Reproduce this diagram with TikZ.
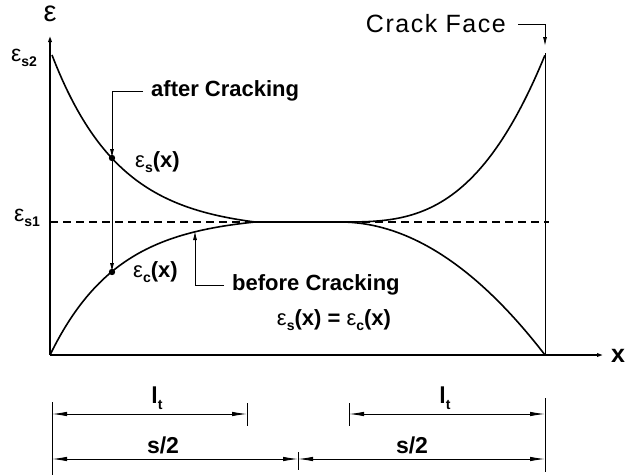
\documentclass[tikz,border=0pt]{standalone}
\usepackage{fontspec}
\setmainfont{Liberation Sans}
\usetikzlibrary{arrows.meta,positioning}

\newcommand{\epsx}[1]{\textmd{ε}\raisebox{-0.45ex}{\fontsize{14}{15}\selectfont\bfseries #1}}
\newcommand{\ltx}{l\raisebox{-0.45ex}{\fontsize{14}{15}\selectfont\bfseries t}}

\begin{document}
\begin{tikzpicture}[x=1pt, y=-1pt, >={Latex[length=9pt,width=4pt]},
  axis/.style={line width=2pt},
  curve/.style={line width=1.6pt},
  lead/.style={line width=0.9pt},
  dim/.style={line width=0.9pt, {Latex[length=15pt,width=4.5pt]}-{Latex[length=15pt,width=4.5pt]}},
  lab/.style={font=\fontsize{22}{25}\selectfont\bfseries, inner xsep=8pt, inner ysep=2pt},
  dimlab/.style={font=\fontsize{23}{26}\selectfont\bfseries, inner sep=0pt}]
\useasboundingbox (0,0) rectangle (633,475);
% axes
\coordinate (o) at (50,355);
\coordinate (ytop) at (50,33);
\coordinate (xend) at (606,355);
\draw[axis,->] (o) -- (ytop);
\draw[axis,->] (o) -- (xend);
\node[font=\fontsize{29}{31}\selectfont, inner sep=0pt] (epsax) at (50,14) {ε};
\node[dimlab, anchor=west, font=\fontsize{25}{27}\selectfont\bfseries] (xax) at (611,356) {x};
\node[font=\fontsize{23}{25}\selectfont, inner sep=0pt] (es2) at (24,58) {\epsx{s2}};
\node[font=\fontsize{23}{25}\selectfont, inner sep=0pt] (es1) at (27,218) {\epsx{s1}};
% crack face and level es1
\coordinate (cftop) at (545,53);
\coordinate (cfbot) at (545,355);
\draw[lead] (cftop) -- (cfbot);
\coordinate (d1a) at (50,222);
\coordinate (d1b) at (549,222);
\draw[line width=1.3pt, dash pattern=on 8pt off 5pt] (d1a) -- (d1b);
% strain curves
\draw[curve] plot[domain=0:1, samples=80] ({52+203*\x}, {222-167*(exp(-3*\x)-exp(-3))/(1-exp(-3))});
\draw[curve] plot[domain=0:1, samples=80] ({50+205*\x}, {222+133*(exp(-3*\x)-exp(-3))/(1-exp(-3))});
\draw[curve] (255,222) -- (340,222);
\draw[curve] plot[domain=0:1, samples=80] ({340+205*\x}, {222-167*\x^3});
\draw[curve] plot[domain=0:1, samples=80] ({340+205*\x}, {222+133*\x^2});
% after / before cracking
\coordinate (pu) at (112,158);
\coordinate (pl) at (112,272);
\coordinate (pb) at (195,231);
\fill (pu) circle (3.2pt);
\fill (pl) circle (3.2pt);
\node[lab, anchor=west] (after) at (143,91) {after Cracking};
\draw[lead,->] (after.west) -| (pu);
\draw[lead,->] (pu) -- (pl);
\node[lab, anchor=west] (esx) at (127,162) {\epsx{s}(x)};
\node[lab, anchor=west] (ecx) at (125,272) {\epsx{c}(x)};
\node[lab, anchor=west] (before) at (224,285) {before Cracking};
\draw[lead,->] (before.west) -| (pb);
\node[lab] (eqn) at (334,320) {\epsx{s}(x) = \epsx{c}(x)};
\node[font=\fontsize{25}{28}\selectfont\addfontfeature{LetterSpace=6}, anchor=east, inner xsep=12pt] (crack) at (518,24) {Crack Face};
\coordinate (cfarr) at (545,46);
\draw[lead,->] (crack.east) -| (cfarr);
% dimensions
\coordinate (t0a) at (52,402);
\coordinate (t0b) at (52,475);
\coordinate (t1a) at (247,403);
\coordinate (t1b) at (247,426);
\coordinate (t2a) at (298,452);
\coordinate (t2b) at (298,470);
\coordinate (t3a) at (349,403);
\coordinate (t3b) at (349,426);
\coordinate (t4a) at (545,398);
\coordinate (t4b) at (545,472);
\draw[lead] (t0a) -- (t0b);
\draw[lead] (t1a) -- (t1b);
\draw[lead] (t2a) -- (t2b);
\draw[lead] (t3a) -- (t3b);
\draw[lead] (t4a) -- (t4b);
\coordinate (la0) at (52,414);
\coordinate (la1) at (247,414);
\coordinate (lb0) at (349,414);
\coordinate (lb1) at (545,414);
\coordinate (sa0) at (52,459);
\coordinate (sa1) at (298,459);
\coordinate (sb1) at (545,459);
\draw[dim] (la0) -- (la1);
\draw[dim] (lb0) -- (lb1);
\draw[dim] (sa0) -- (sa1);
\draw[dim] (sa1) -- (sb1);
\node[dimlab] (lt1) at (157,398) {\ltx};
\node[dimlab] (lt2) at (445,398) {\ltx};
\node[dimlab] (s1) at (163,445) {s/2};
\node[dimlab] (s2) at (412,445) {s/2};
\end{tikzpicture}
\end{document}
